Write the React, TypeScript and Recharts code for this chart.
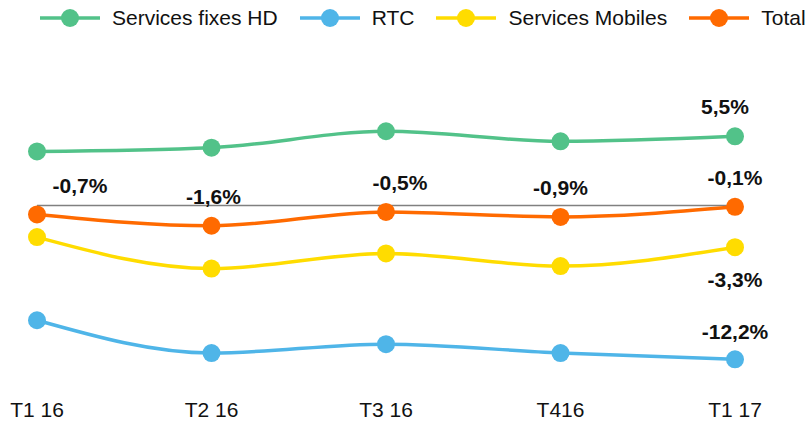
import React from 'react';
import { LineChart, Line, XAxis, YAxis, Legend, ReferenceLine, LabelList } from 'recharts';

const categories = ['T1 16', 'T2 16', 'T3 16', 'T416', 'T1 17'];
const servicesFixesHD = [4.3, 4.6, 5.9, 5.1, 5.5];
const rtc = [-9.1, -11.7, -11.0, -11.7, -12.2];
const servicesMobiles = [-2.5, -5.0, -3.8, -4.8, -3.3];
const total = [-0.7, -1.6, -0.5, -0.9, -0.1];
const seriesNames = ['Services fixes HD', 'RTC', 'Services Mobiles', 'Total'];

const data = categories.map((c, i) => ({
  name: c,
  hd: servicesFixesHD[i],
  rtc: rtc[i],
  mob: servicesMobiles[i],
  total: total[i],
}));

const COLORS = { hd: '#52C289', rtc: '#4FB5E8', mob: '#FFDC00', total: '#FF6A00' };
const legendColors = [COLORS.hd, COLORS.rtc, COLORS.mob, COLORS.total];
const FONT = '"Liberation Sans", Arial, Helvetica, sans-serif';
const fmt = (v: number) => `${v.toFixed(1).replace('.', ',')}%`;

const totalDx = [43, 2, 14, 0, 0];

const makeLastLabel = (dy: number, dx = 0) => (props: any) => {
  const { x, y, value, index } = props;
  if (index !== categories.length - 1) return null;
  return (
    <text x={x + dx} y={y + dy} textAnchor="middle" dominantBaseline="central" fontFamily={FONT} fontWeight="bold" fontSize={21} fill="#111">
      {fmt(value)}
    </text>
  );
};

const totalLabel = (props: any) => {
  const { x, y, value, index } = props;
  return (
    <text x={x + totalDx[index]} y={y - 29} textAnchor="middle" dominantBaseline="central" fontFamily={FONT} fontWeight="bold" fontSize={21} fill="#111">
      {fmt(value)}
    </text>
  );
};

const LegendContent = () => {
  return (
    <div style={{ display: 'flex', alignItems: 'center', height: 36, width: 807, paddingLeft: 40, boxSizing: 'border-box', fontFamily: FONT, fontSize: 21, color: '#111', whiteSpace: 'nowrap' }}>
      {seriesNames.map((n, i) => (
        <div key={i} style={{ display: 'flex', alignItems: 'center', marginRight: 22, flexShrink: 0 }}>
          <svg width={60} height={20} style={{ marginRight: 12 }}>
            <line x1={0} y1={10} x2={60} y2={10} stroke={legendColors[i]} strokeWidth={3.5} />
            <circle cx={30} cy={10} r={9} fill={legendColors[i]} />
          </svg>
          <span>{n}</span>
        </div>
      ))}
    </div>
  );
};

export default function App() {
  return (
    <div style={{ position: 'absolute', left: 0, top: 0, width: 807, height: 426, background: '#fff' }}>
      <LineChart width={807} height={426} data={data} margin={{ top: 94, right: 72, bottom: 14, left: 37 }}>
        <XAxis dataKey="name" axisLine={false} tickLine={false} tickMargin={14} tick={{ fill: '#111', fontSize: 21, fontFamily: FONT }} interval={0} />
        <YAxis hide domain={[-14, 6]} />
        <Legend verticalAlign="top" align="left" content={<LegendContent />} wrapperStyle={{ top: 0, left: 0, width: 807 }} />
        <ReferenceLine y={0} stroke="#808080" strokeWidth={1.5} />
        <Line type="monotone" dataKey="hd" name="Services fixes HD" stroke={COLORS.hd} strokeWidth={3.5} dot={{ r: 9, fill: COLORS.hd, stroke: 'none' }} isAnimationActive={false}>
          <LabelList dataKey="hd" content={makeLastLabel(-30, -10)} />
        </Line>
        <Line type="monotone" dataKey="rtc" name="RTC" stroke={COLORS.rtc} strokeWidth={3.5} dot={{ r: 9, fill: COLORS.rtc, stroke: 'none' }} isAnimationActive={false}>
          <LabelList dataKey="rtc" content={makeLastLabel(-28)} />
        </Line>
        <Line type="monotone" dataKey="mob" name="Services Mobiles" stroke={COLORS.mob} strokeWidth={3.5} dot={{ r: 9, fill: COLORS.mob, stroke: 'none' }} isAnimationActive={false}>
          <LabelList dataKey="mob" content={makeLastLabel(32)} />
        </Line>
        <Line type="monotone" dataKey="total" name="Total" stroke={COLORS.total} strokeWidth={3.5} dot={{ r: 9, fill: COLORS.total, stroke: 'none' }} isAnimationActive={false}>
          <LabelList dataKey="total" content={totalLabel} />
        </Line>
      </LineChart>
    </div>
  );
}
